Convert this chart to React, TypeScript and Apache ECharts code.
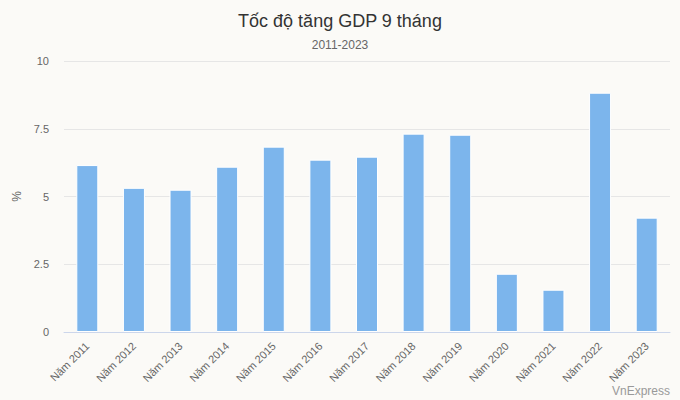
import React, { useEffect, useRef } from "react";
import * as echarts from "echarts";

const categories = ["Năm 2011", "Năm 2012", "Năm 2013", "Năm 2014", "Năm 2015", "Năm 2016", "Năm 2017", "Năm 2018", "Năm 2019", "Năm 2020", "Năm 2021", "Năm 2022", "Năm 2023"];
const gdpGrowth = [6.16, 5.32, 5.25, 6.1, 6.84, 6.36, 6.47, 7.32, 7.28, 2.15, 1.56, 8.83, 4.22];
const yTicks = [0, 2.5, 5, 7.5, 10];

const FONT = "'Liberation Sans', Arial, sans-serif";

export default function App() {
  const ref = useRef<HTMLDivElement>(null);
  useEffect(() => {
    if (!ref.current) return;
    const chart = echarts.init(ref.current, null, { renderer: "svg" });
    chart.setOption({
      animation: false,
      backgroundColor: "#fbfaf7",
      textStyle: { fontFamily: FONT },
      title: [
        {
          text: "Tốc độ tăng GDP 9 tháng",
          left: "center",
          top: 7,
          textStyle: { fontSize: 18, fontWeight: "normal", color: "#333333", fontFamily: FONT },
        },
        {
          text: "2011-2023",
          left: "center",
          top: 34,
          textStyle: { fontSize: 12, fontWeight: "normal", color: "#666666", fontFamily: FONT },
        },
      ],
      graphic: [
        {
          type: "text",
          right: 10,
          bottom: 3,
          style: { text: "VnExpress", fill: "#999999", fontSize: 12, fontFamily: FONT },
        },
      ],
      grid: { left: 64, right: 10, top: 61, bottom: 68, containLabel: false },
      xAxis: {
        type: "category",
        data: categories,
        axisLine: { lineStyle: { color: "#ccd6eb" } },
        axisTick: { show: false },
        axisLabel: { rotate: 45, color: "#666666", fontSize: 11, margin: 12, fontFamily: FONT },
      },
      yAxis: {
        type: "value",
        min: yTicks[0],
        max: yTicks[yTicks.length - 1],
        interval: 2.5,
        name: "%",
        nameLocation: "middle",
        nameGap: 39,
        nameTextStyle: { color: "#666666", fontSize: 12, fontFamily: FONT },
        axisLine: { show: false },
        axisTick: { show: false },
        axisLabel: { color: "#666666", fontSize: 11, margin: 15, fontFamily: FONT },
        splitLine: { lineStyle: { color: "#e6e6e6" } },
      },
      series: [
        {
          type: "bar",
          data: gdpGrowth,
          barWidth: 22,
          itemStyle: { color: "#7cb5ec", borderColor: "#ffffff", borderWidth: 1 },
        },
      ],
    });
    return () => chart.dispose();
  }, []);
  return <div ref={ref} style={{ width: 680, height: 400, position: "absolute", left: 0, top: 0 }} />;
}
